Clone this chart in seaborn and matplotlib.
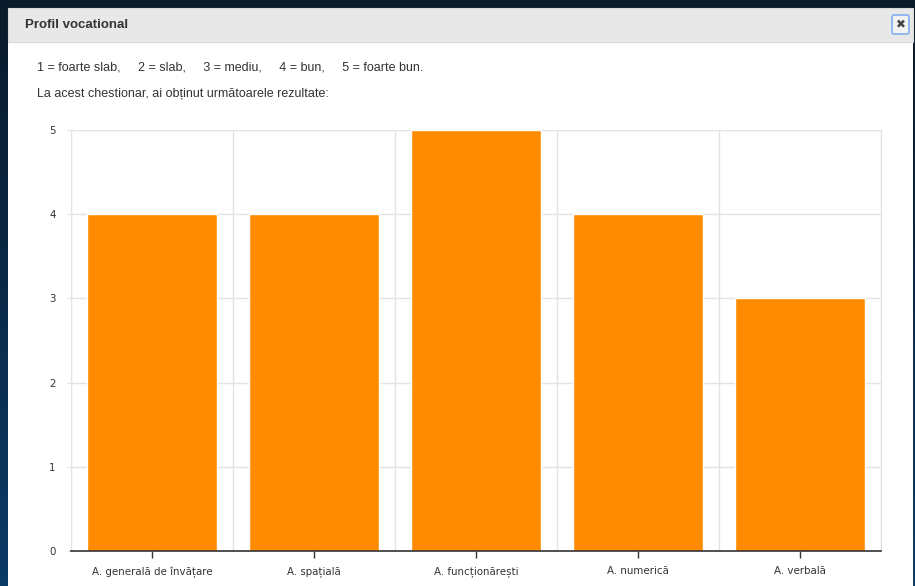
import numpy as np
import matplotlib.pyplot as plt
import seaborn as sns
from matplotlib.patches import Rectangle, FancyBboxPatch

categories = ["A. generală de învățare", "A. spațială", "A. funcționărești",
              "A. numerică", "A. verbală"]
scores = [4, 4, 5, 4, 3]
y_ticks = [0, 1, 2, 3, 4, 5]

title = "Profil vocational"
scale_text = "1 = foarte slab,     2 = slab,     3 = mediu,     4 = bun,     5 = foarte bun."
intro_text = "La acest chestionar, ai obținut următoarele rezultate:"

sns.set_style("white")
plt.rcParams["font.family"] = ["DejaVu Sans"]

W, H = 915, 586
fig = plt.figure(figsize=(W / 100, H / 100), dpi=100)

# page background + modal window
bg = fig.add_axes([0, 0, 1, 1])
bg.set_xlim(0, W)
bg.set_ylim(H, 0)
bg.axis("off")
grad = np.linspace(0, 1, 64).reshape(-1, 1)
bg.imshow(grad, extent=[0, W, H, 0], aspect="auto",
          cmap=sns.blend_palette(["#0a1a2a", "#0c3a66"], as_cmap=True), zorder=0)
bg.add_patch(Rectangle((8, 8), 905, 590, facecolor="white", edgecolor="none", zorder=1))
bg.add_patch(Rectangle((8, 8), 905, 34, facecolor="#e8e8e8", edgecolor="#d8d8d8", lw=0.8, zorder=2))
bg.add_patch(FancyBboxPatch((892, 15), 17, 19, boxstyle="round,pad=0,rounding_size=2",
                            facecolor="#f2f2f2", edgecolor="#8ab4f0", lw=1.3, zorder=3))
bg.text(900.5, 25, "✖", ha="center", va="center", fontsize=8.5, color="#444444", zorder=4)
bg.text(25, 25, title, ha="left", va="center", fontsize=9.5, fontweight="bold",
        family="Liberation Sans", color="#333333", zorder=4)
bg.text(37, 67, scale_text, ha="left", va="center", fontsize=9,
        family="Liberation Sans", color="#333333", zorder=4)
bg.text(37, 94, intro_text, ha="left", va="center", fontsize=9,
        family="Liberation Sans", color="#333333", zorder=4)

# chart
ax = fig.add_axes([71 / W, (H - 551) / H, (881 - 71) / W, (551 - 130) / H])
sns.barplot(x=categories, y=scores, color="#ff8c00", saturation=1, width=0.8, ax=ax, zorder=3)
ax.set_xlim(-0.5, len(categories) - 0.5)
ax.set_ylim(0, 5)
ax.set_yticks(y_ticks)
ax.set_xticks(np.arange(len(categories) + 1) - 0.5, minor=True)
ax.grid(axis="y", which="major", color="#e3e3e3", lw=1, zorder=0)
ax.grid(axis="x", which="minor", color="#e3e3e3", lw=1, zorder=0)
ax.set_xlabel("")
ax.set_ylabel("")
for s in ["top", "right", "left"]:
    ax.spines[s].set_color("#e3e3e3")
ax.spines["bottom"].set_color("#333333")
ax.spines["bottom"].set_linewidth(1.2)
ax.spines["bottom"].set_zorder(5)
ax.tick_params(axis="x", which="major", length=5, width=1, color="#333333",
               labelsize=7.4, labelcolor="#333333", pad=6, bottom=True)
ax.tick_params(axis="x", which="minor", length=0)
ax.tick_params(axis="y", length=3, color="#e3e3e3", labelsize=7.4,
               labelcolor="#333333", pad=8, left=True)

fig.savefig("out.png", dpi=100)
